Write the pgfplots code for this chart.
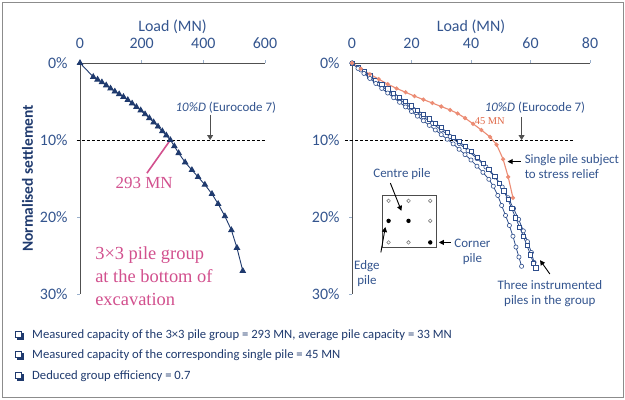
\documentclass[border=0pt]{standalone}
\usepackage{pgfplots}
\usepackage{pgfplotstable}
\pgfplotsset{compat=1.18}
\usepackage{fontspec}
\setmainfont{Carlito}
\newfontfamily\pinkserif{Liberation Serif}
\usetikzlibrary{arrows.meta}

\definecolor{navy}{HTML}{1F3A6E}
\definecolor{labblue}{HTML}{34558F}
\definecolor{tickcol}{HTML}{9AB0CC}
\definecolor{axgray}{HTML}{505050}
\definecolor{pinklab}{HTML}{D2508E}
\definecolor{salmon}{HTML}{EC8C74}
\definecolor{redlab}{HTML}{E06848}
\definecolor{pileblue}{HTML}{2E4E8C}
\definecolor{framegray}{HTML}{8C8C8C}

% 3x3 pile group at the bottom of excavation: load (MN) vs normalised settlement (%)
\pgfplotstableread{
load settle
0 0
43 1.8
57 2.15
71 2.5
85 2.9
99 3.3
113 3.7
127 4.05
141 4.4
155 4.8
169 5.25
183 5.7
197 6.15
211 6.65
225 7.15
239 7.7
253 8.25
267 8.85
280 9.4
293 10.0
306 10.8
320 11.7
341 12.9
363 13.9
383 14.8
405 15.8
428 17.0
448 18.3
470 19.9
491 21.7
509 24.0
528 27.0
}\groupdata

% single pile subject to stress relief
\pgfplotstableread{
load settle
0 0
3 0.75
6 1.45
9 2.1
12 2.75
15 3.3
18 3.8
21 4.3
24 4.75
27 5.2
30 5.65
33 6.1
35.5 6.55
38 7.15
40.7 7.9
43.5 8.7
46.4 9.6
48.6 10.6
50.8 12.5
52.5 14.8
54.1 17.5
}\singledata

% instrumented piles in the group
\pgfplotstableread{
load settle
0 0
2 0.7
4 1.35
6 2.0
8 2.65
10 3.3
12 3.9
14 4.5
16 5.1
18 5.7
20 6.3
22 6.9
24 7.5
26 8.1
28 8.7
30 9.3
32 9.9
34 10.5
36 11.2
38 11.9
40 12.6
42 13.4
44 14.2
46 15.1
47.5 16.0
49 17.2
50.3 18.5
51.6 19.8
52.9 21.1
54.1 22.5
55.1 23.9
56.1 25.2
57 26.4
}\pileA

\pgfplotstableread{
load settle
0 0
2 0.55
4 1.1
6 1.65
8 2.2
10 2.8
12 3.35
14 3.9
16 4.45
18 5.0
20 5.55
22 6.1
24 6.7
26 7.25
28 7.8
30 8.4
32 9.0
34 9.6
36 10.2
38 10.85
40 11.5
42 12.2
44 13.0
46 13.8
48 14.7
49.6 15.6
51 16.6
52.4 17.7
53.7 18.9
55 20.1
56.3 21.3
57.6 22.5
58.8 23.7
60 24.9
61 26.0
61.8 26.6
}\pileB

\pgfplotstableread{
load settle
0 0
3 0.9
6 1.8
9 2.7
12 3.6
15 4.45
18 5.3
21 6.15
24 7.0
27 7.85
30 8.7
33 9.55
36 10.45
39 11.4
42 12.4
45 13.5
48 14.8
50.5 16.1
52.5 17.5
54.3 18.9
56 20.3
57.6 21.8
59 23.2
60.3 24.6
61.2 25.9
}\pileC

\pgfplotsset{
  settle axis/.style={
    scale only axis, anchor=north west, height=231bp,
    y dir=reverse, ymin=0, ymax=30, ytick={0,10,20,30},
    yticklabel={\pgfmathprintnumber{\tick}\%},
    axis x line*=top, axis y line*=left,
    axis line style={axgray, line width=1bp},
    tick align=outside, major tick length=3bp,
    every tick/.style={tickcol, line width=0.8bp},
    /pgf/number format/assume math mode=true,
    tick label style={font=\fontsize{16}{16}\selectfont, text=labblue},
    yticklabel style={xshift=-6bp},
    xticklabel style={yshift=8bp},
    xlabel={Load (MN)},
    xlabel style={font=\fontsize{16}{16}\selectfont, text=labblue, yshift=-3bp},
    clip=false,
  },
}
\tikzset{
  eurocode/.style={-{Triangle[length=5bp,width=6bp]}, draw=axgray, line width=0.8bp},
  note/.style={font=\fontsize{13}{15}\selectfont, text=labblue, align=left, inner sep=0pt},
  pointer/.style={-{Triangle[length=5bp,width=5bp]}, line width=0.9bp, black},
  openpile/.style={draw=gray, line width=0.6bp, fill=white},
}

\begin{document}
\begin{tikzpicture}[x=1bp,y=-1bp]
\useasboundingbox (0,0) rectangle (625,399);
\fill[white] (0,0) rectangle (625,399);
\draw[framegray, line width=1bp] (2,2) rectangle (623,397);

% ---- left: pile group ----
\begin{axis}[settle axis, at={(80bp,-63bp)}, width=185bp,
  xmin=0, xmax=600, xtick={0,200,400,600},
  ylabel={Normalised settlement},
  ylabel style={font=\bfseries\fontsize{15.5}{15.5}\selectfont, text=navy}]
  \draw[dashed, dash pattern=on 3bp off 2bp, line width=1bp]
    (axis cs:-11,10) -- (axis cs:600,10);
  \addplot[navy, line width=0.9bp, mark=triangle*, mark size=3bp,
    mark options={fill=navy, draw=navy}] table[x=load, y=settle] {\groupdata};
  \draw[eurocode] (axis cs:422,6.7) -- (axis cs:422,10);
  \node[note, anchor=south] at (axis cs:473,6.5) {{\itshape 10\%D} (Eurocode 7)};
  \draw[pinklab, line width=1.6bp] (axis cs:217,14.3) -- (axis cs:293,10);
  \node[font=\pinkserif\fontsize{17}{17}\selectfont, text=pinklab] at (axis cs:208,15.6) {293 MN};
  \node[font=\pinkserif\fontsize{18.5}{23}\selectfont, text=pinklab, align=left,
    anchor=north west, inner sep=0pt] at (axis cs:49,23.8)
    {3\texttimes3 pile group\\at the bottom of\\excavation};
\end{axis}

% ---- right: single pile and piles in the group ----
\begin{axis}[settle axis, at={(352bp,-63bp)}, width=238bp,
  xmin=0, xmax=80, xtick={0,20,40,60,80}]
  \draw[dashed, dash pattern=on 3bp off 2bp, line width=1bp]
    (axis cs:-2.3,10) -- (axis cs:74.3,10);
  \addplot[pileblue, line width=0.8bp, mark=*, mark size=2.1bp,
    mark options={fill=white, draw=pileblue, line width=0.6bp}] table[x=load, y=settle] {\pileC};
  \addplot[pileblue, line width=0.8bp, mark=square*, mark size=2.1bp,
    mark options={fill=white, draw=pileblue, line width=0.6bp}] table[x=load, y=settle] {\pileB};
  \addplot[pileblue, line width=0.8bp, mark=*, mark size=2.1bp,
    mark options={fill=white, draw=pileblue, line width=0.6bp}] table[x=load, y=settle] {\pileA};
  \addplot[salmon, line width=1.1bp, mark=*, mark size=1.5bp,
    mark options={fill=salmon, draw=salmon}] table[x=load, y=settle] {\singledata};
  \draw[eurocode] (axis cs:57,7.0) -- (axis cs:57,10);
  \node[note, anchor=south] at (axis cs:61.5,6.5) {{\itshape 10\%D} (Eurocode 7)};
  \node[font=\pinkserif\fontsize{10.5}{10.5}\selectfont, text=redlab] at (axis cs:46.3,7.6) {45 MN};
  \draw[pointer] (axis cs:56.8,12.8) -- (axis cs:52.3,12.8);
  \node[note, anchor=north west] at (axis cs:58,11.8) {Single pile subject\\to stress relief};
  \draw[pointer] (axis cs:66.5,27.4) -- (axis cs:63.2,25.6);
  \node[note, anchor=north, align=center] at (axis cs:66.5,28.2) {Three instrumented\\piles in the group};
  % plan of the 3x3 group
  \draw[black!70, line width=0.9bp] (axis cs:10.1,17.2) rectangle (axis cs:28.4,24.0);
  \draw[openpile] (axis cs:12.3,17.9) circle[radius=1.8bp];
  \draw[openpile] (axis cs:19.0,17.9) circle[radius=1.8bp];
  \draw[openpile] (axis cs:26.3,17.9) circle[radius=1.8bp];
  \draw[openpile] (axis cs:26.3,20.5) circle[radius=1.8bp];
  \draw[openpile] (axis cs:12.3,23.3) circle[radius=1.8bp];
  \draw[openpile] (axis cs:19.0,23.3) circle[radius=1.8bp];
  \fill[black] (axis cs:12.3,20.5) circle[radius=2.2bp];
  \fill[black] (axis cs:19.0,20.5) circle[radius=2.2bp];
  \fill[black] (axis cs:26.3,23.3) circle[radius=2.2bp];
  \node[note] at (axis cs:16.8,14.4) {Centre pile};
  \draw[pointer] (axis cs:12.9,15.6) -- (axis cs:16.6,19.2);
  \node[note] at (axis cs:40.5,23.4) {Corner};
  \node[note] at (axis cs:40.5,25.5) {pile};
  \draw[pointer] (axis cs:33.2,23.3) -- (axis cs:29.2,23.3);
  \node[note, align=center] at (axis cs:5,27.4) {Edge\\pile};
  \draw[pointer] (axis cs:9.7,24.6) -- (axis cs:11.2,21.3);
\end{axis}

% ---- summary ----
\foreach \yy/\txt in {335/{Measured capacity of the 3\texttimes3 pile group = 293 MN, average pile capacity = 33 MN},
                      355/{Measured capacity of the corresponding single pile = 45 MN},
                      376/{Deduced group efficiency = 0.7}} {
  \fill[navy] (16.5,\yy-2.5) rectangle (23.5,\yy+4.5);
  \draw[navy, fill=white, line width=0.7bp] (15,\yy-4) rectangle (21.5,\yy+2.5);
  \node[anchor=west, inner sep=0pt, font=\fontsize{12.7}{12.7}\selectfont, text=navy] at (32,\yy) {\txt};
}
\end{tikzpicture}
\end{document}
